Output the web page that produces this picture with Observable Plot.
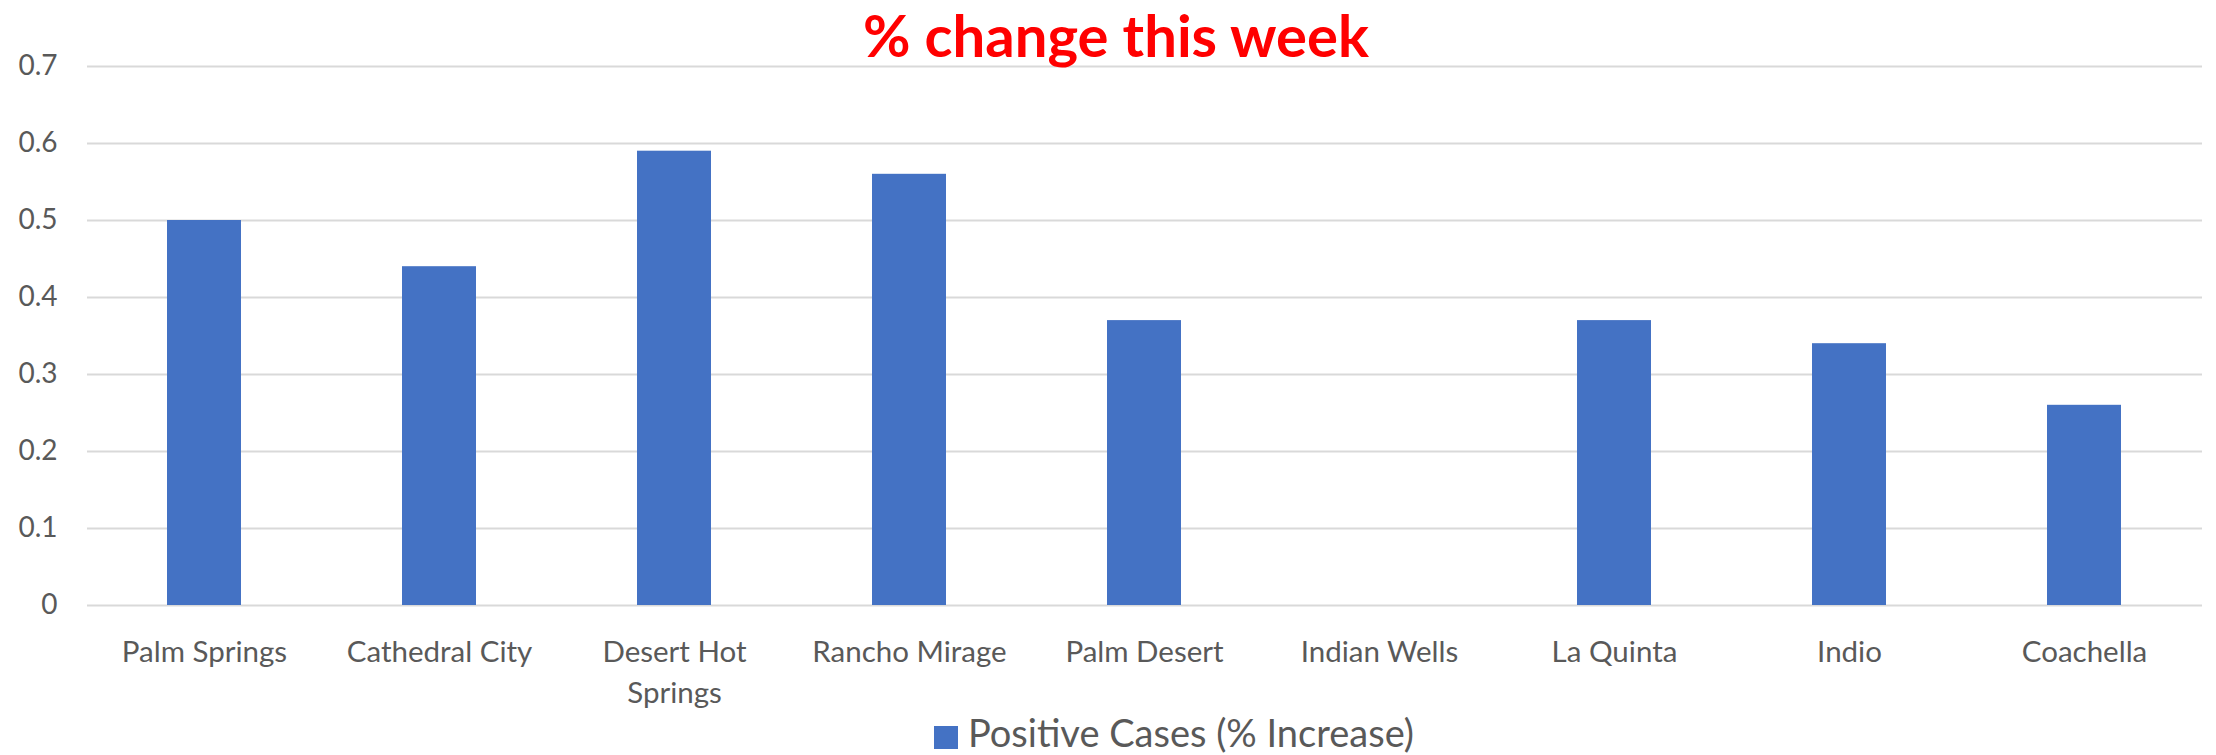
<!DOCTYPE html>
<html><head><meta charset="utf-8">
<script src="https://cdn.jsdelivr.net/npm/d3@7"></script>
<script src="https://cdn.jsdelivr.net/npm/@observablehq/plot@0.6"></script>
<style>
body{margin:0;background:#fff;}
#wrap{position:relative;width:2216px;height:755px;overflow:hidden;font-family:Lato,sans-serif;background:#fff;}
#chart{position:absolute;left:0;top:0;}
#title{position:absolute;left:16px;width:2200px;top:0px;text-align:center;font-weight:bold;color:#FF0000;font-size:58px;line-height:70px;white-space:nowrap;}
#legsq{position:absolute;left:934px;top:726px;width:24px;height:23px;background:#4472C4;}
#legtx{position:absolute;left:968px;top:713px;font-size:38px;line-height:38px;color:#595959;white-space:nowrap;}
</style></head>
<body>
<div id="wrap">
  <div id="chart"></div>
  <div id="title"></div>
  <div id="legsq"></div>
  <div id="legtx"></div>
</div>
<script>
const titleText = "% change this week";
const seriesName = "Positive Cases (% Increase)";
const cities = ["Palm Springs","Cathedral City","Desert Hot Springs","Rancho Mirage","Palm Desert","Indian Wells","La Quinta","Indio","Coachella"];
const cityLabels = ["Palm Springs","Cathedral City","Desert Hot\nSprings","Rancho Mirage","Palm Desert","Indian Wells","La Quinta","Indio","Coachella"];
const values = [0.50,0.44,0.59,0.56,0.37,0,0.37,0.34,0.26];
const yTicks = [0,0.1,0.2,0.3,0.4,0.5,0.6,0.7];
const yTickLabels = ["0","0.1","0.2","0.3","0.4","0.5","0.6","0.7"];

const data = cities.map((c,i)=>({city:c, value:values[i]}));

document.getElementById("title").textContent = titleText;
document.getElementById("legtx").textContent = seriesName;

const chart = Plot.plot({
  width:2216, height:710,
  marginTop:66, marginBottom:105, marginLeft:87, marginRight:14,
  style:{fontFamily:"Lato, sans-serif", fontSize:"28px", color:"#595959", background:"white", overflow:"visible"},
  x:{domain:cities, paddingInner:0.685, paddingOuter:0.3425},
  y:{domain:[0,0.7]},
  marks:[
    Plot.gridY(yTicks,{stroke:"#d9d9d9", strokeOpacity:1, strokeWidth:2}),
    Plot.barY(data,{x:"city", y:"value", fill:"#4472C4"}),
    Plot.axisY(yTicks,{tickSize:0, tickPadding:30, tickFormat:d=>yTickLabels[yTicks.indexOf(d)], label:null}),
    Plot.axisX({tickSize:0, tickPadding:28, fontSize:29.5, tickFormat:d=>cityLabels[cities.indexOf(d)], lineHeight:1.38, label:null})
  ]
});
document.getElementById("chart").appendChild(chart);
</script>
</body></html>
